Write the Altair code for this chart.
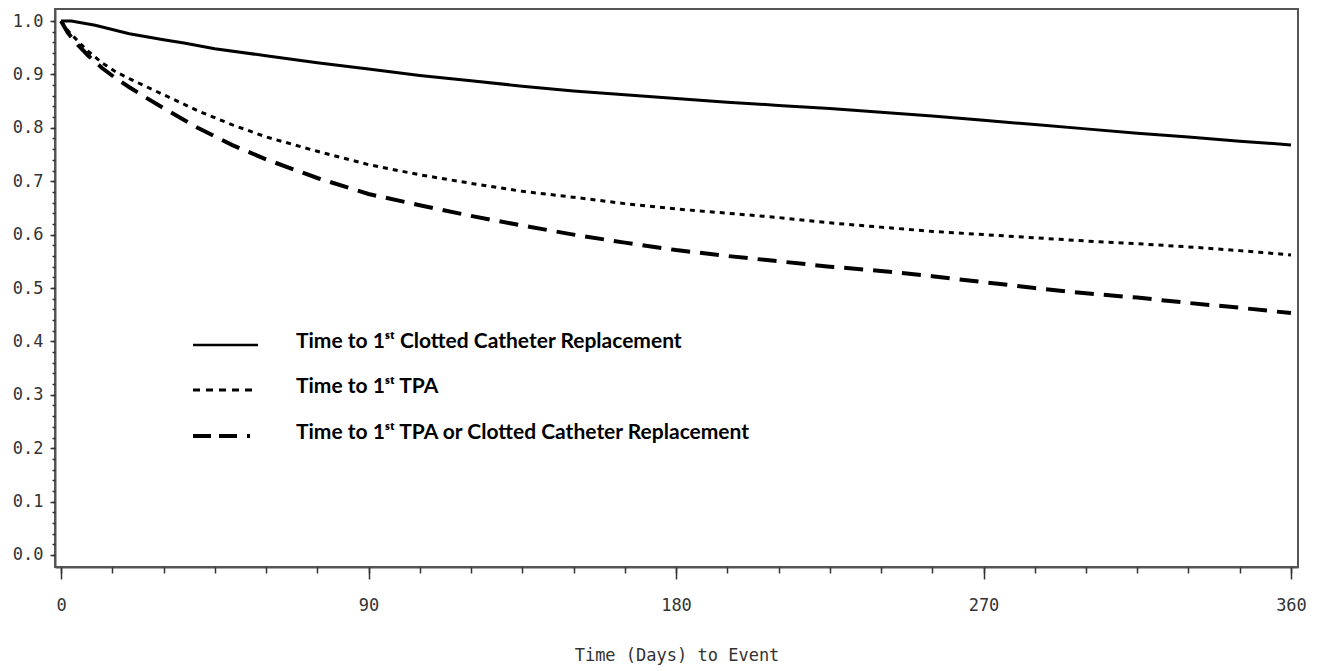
import altair as alt
import pandas as pd

# ---- data ----
days_cath = [0, 3, 10, 20, 30, 36, 45, 60, 75, 90, 105, 120, 135, 150, 165, 180, 195, 210,
             225, 240, 255, 270, 285, 300, 315, 330, 345, 360]
surv_cath = [1.0, 1.0, 0.992, 0.976, 0.965, 0.959, 0.948, 0.935, 0.922, 0.91, 0.898, 0.888,
             0.878, 0.869, 0.862, 0.855, 0.848, 0.842, 0.836, 0.829, 0.822, 0.814, 0.806,
             0.798, 0.79, 0.783, 0.775, 0.768]

days_tpa = [0, 2, 5, 8, 12, 16, 20, 25, 30, 40, 50, 60, 75, 90, 105, 120, 135, 150, 165, 180,
            195, 210, 225, 240, 255, 270, 285, 300, 315, 330, 345, 360]
surv_tpa = [1.0, 0.982, 0.962, 0.943, 0.922, 0.905, 0.892, 0.877, 0.862, 0.832, 0.806, 0.783,
            0.756, 0.731, 0.712, 0.696, 0.681, 0.67, 0.658, 0.648, 0.64, 0.632, 0.622, 0.614,
            0.606, 0.6, 0.594, 0.588, 0.583, 0.577, 0.57, 0.562]

days_any = [0, 2, 5, 8, 12, 16, 20, 25, 30, 40, 50, 60, 75, 90, 105, 120, 135, 150, 165, 180,
            195, 210, 225, 240, 255, 270, 285, 300, 315, 330, 345, 360]
surv_any = [1.0, 0.978, 0.955, 0.935, 0.912, 0.893, 0.876, 0.856, 0.837, 0.8, 0.768, 0.741,
            0.706, 0.676, 0.655, 0.635, 0.617, 0.6, 0.585, 0.571, 0.56, 0.55, 0.54, 0.532,
            0.522, 0.511, 0.5, 0.49, 0.482, 0.472, 0.463, 0.453]

x_major = [0, 90, 180, 270, 360]
x_minor = list(range(0, 361, 15))
y_major = [round(i * 0.1, 1) for i in range(11)]
y_minor = [round(i * 0.02, 2) for i in range(51)]

legend_labels = [
    "Time to 1\u02e2\u1d57 Clotted Catheter Replacement",
    "Time to 1\u02e2\u1d57 TPA",
    "Time to 1\u02e2\u1d57 TPA or Clotted Catheter Replacement",
]
x_title = "Time (Days) to Event"

df_cath = pd.DataFrame({"day": days_cath, "surv": surv_cath})
df_tpa = pd.DataFrame({"day": days_tpa, "surv": surv_tpa})
df_any = pd.DataFrame({"day": days_any, "surv": surv_any})

xscale = alt.Scale(domain=[-1.76, 362.05], nice=False, zero=False)
yscale = alt.Scale(domain=[-0.0225, 1.0225], nice=False, zero=False)

MONO = "DejaVu Sans Mono"

x_axis_major = alt.Axis(values=x_major, format="d", orient="bottom", tickSize=12,
                        labelPadding=18, labelFlush=False, title=x_title,
                        titleFont=MONO, titleFontSize=17, titleFontWeight="normal",
                        titleColor="#333", titleY=88, titleBaseline="middle",
                        grid=False)
y_axis_major = alt.Axis(values=y_major, format=".1f", orient="left", tickSize=5,
                        labelPadding=7, title=None, grid=False, labelFlush=False)
x_axis_minor = alt.Axis(values=x_minor, orient="bottom", tickSize=6, labels=False,
                        domain=False, title=None, grid=False)
y_axis_minor = alt.Axis(values=y_minor, orient="left", tickSize=3, labels=False,
                        domain=False, title=None, grid=False)

line_cath = alt.Chart(df_cath).mark_line(color="black", strokeWidth=3).encode(
    x=alt.X("day:Q", scale=xscale, axis=x_axis_major),
    y=alt.Y("surv:Q", scale=yscale, axis=y_axis_major),
)
minor = alt.Chart(df_cath).mark_point(opacity=0).encode(
    x=alt.X("day:Q", scale=xscale, axis=x_axis_minor),
    y=alt.Y("surv:Q", scale=yscale, axis=y_axis_minor),
)
line_tpa = alt.Chart(df_tpa).mark_line(color="black", strokeWidth=3, strokeDash=[5, 5]).encode(
    x=alt.X("day:Q", scale=xscale, axis=None),
    y=alt.Y("surv:Q", scale=yscale, axis=None),
)
line_any = alt.Chart(df_any).mark_line(color="black", strokeWidth=4, strokeDash=[19, 10]).encode(
    x=alt.X("day:Q", scale=xscale, axis=None),
    y=alt.Y("surv:Q", scale=yscale, axis=None),
)

# ---- manual legend (pixel layout inside the plot area) ----
one = pd.DataFrame({"k": [0]})
leg_y = [336, 381, 427]
leg_dash = [None, [7, 6], [18, 8, 18, 10, 3, 8]]
leg_w = [2.5, 3, 4]
legend_layers = []
for i, lab in enumerate(legend_labels):
    kw = dict(color="black", strokeWidth=leg_w[i])
    if leg_dash[i] is not None:
        kw["strokeDash"] = leg_dash[i]
    legend_layers.append(
        alt.Chart(one).mark_rule(**kw).encode(
            x=alt.value(138), x2=alt.value(203), y=alt.value(leg_y[i]))
    )
    legend_layers.append(
        alt.Chart(one).mark_text(text=lab, align="left", baseline="alphabetic",
                                 font="Lato", fontWeight="bold", fontSize=21, color="black")
        .encode(x=alt.value(241), y=alt.value(leg_y[i] + 3))
    )

chart = alt.layer(line_cath, minor, line_tpa, line_any, *legend_layers).resolve_axis(
    x="independent", y="independent"
).properties(
    width=1243, height=558,
    autosize=alt.AutoSizeParams(type="none"),
    padding={"left": 55, "top": 9, "right": 26, "bottom": 104},
).configure_view(
    stroke="#555", strokeWidth=2
).configure_axis(
    domainColor="#555", domainWidth=2, tickColor="#333", tickWidth=1.5,
    labelFont=MONO, labelFontSize=17, labelColor="#333",
)

chart.save("out.html", embed_options={"renderer": "svg", "actions": False})
